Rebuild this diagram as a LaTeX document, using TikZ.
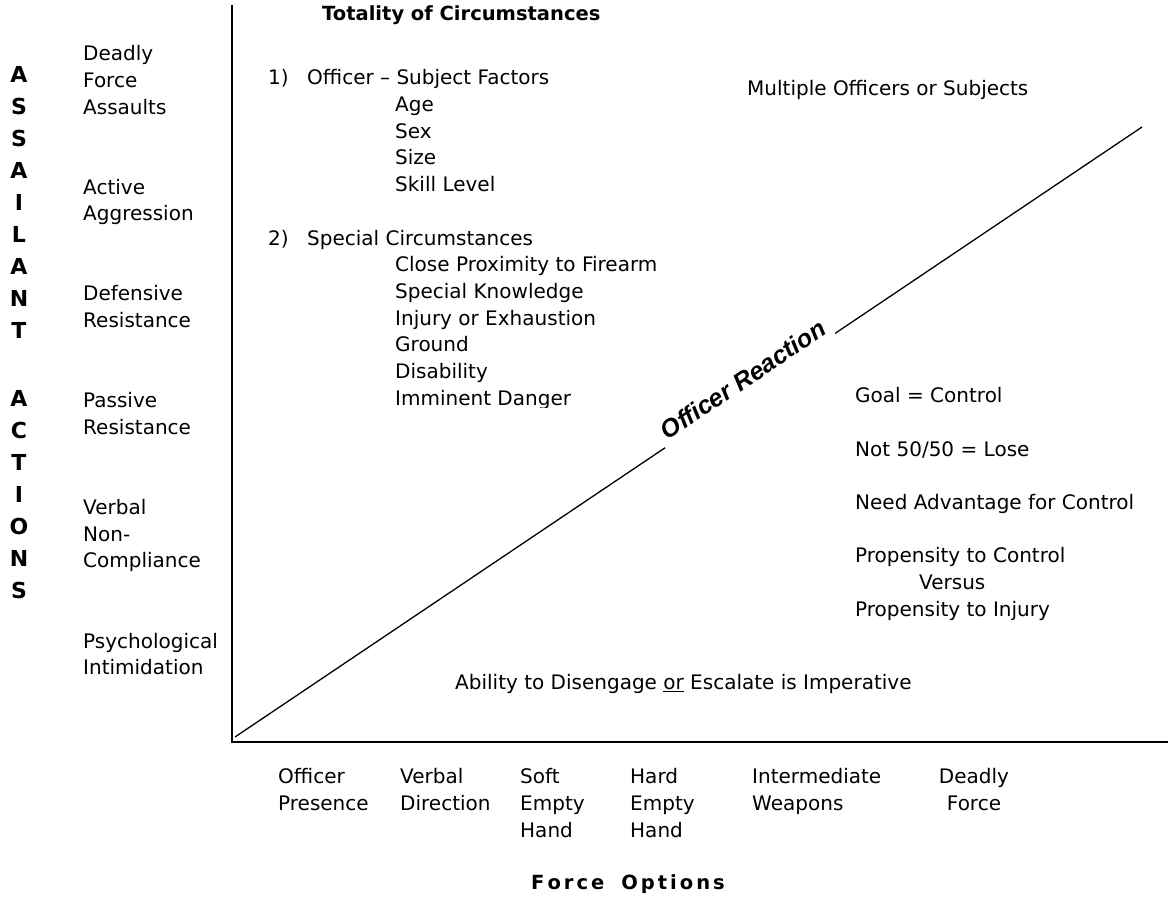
\documentclass[tikz,border=0pt]{standalone}
\usepackage{fontspec}
\setmainfont{DejaVu Sans}
\newfontfamily\reactfont{Liberation Sans}
\newcommand\lblfont{\fontsize{20}{26.7}\selectfont}
\newcommand\ttlfont{\fontsize{19.5}{26.7}\selectfont\bfseries}
\newcommand\ltrfont{\fontsize{22}{26.7}\selectfont\bfseries}
\newcommand\ls{\hspace{3pt}}

\begin{document}
\begin{tikzpicture}[x=1pt, y=-1pt,
    lbl/.style={anchor=north west, inner sep=0pt, align=left, font=\lblfont},
    ctr/.style={lbl, anchor=north, align=center},
    ltr/.style={inner sep=0pt, font=\ltrfont},
    axis/.style={line width=1.6pt},
    react/.style={sloped, fill=white, inner sep=6pt, outer sep=-2pt, anchor=south,
      font=\reactfont\fontsize{25}{30}\selectfont\bfseries\itshape}]
  \useasboundingbox (0,0) rectangle (1170,909);
  % axes
  \coordinate (origin) at (232,742);
  \coordinate (ytop) at (232,5);
  \coordinate (xend) at (1168,742);
  \draw[axis] (ytop) -- (origin) -- (xend);
  % officer reaction
  \coordinate (rstart) at (235,737);
  \coordinate (rend) at (1142,127);
  \draw[line width=1.3pt] (rstart) -- node[react, pos=.568] (reaction) {Officer Reaction} (rend);
  % assailant actions, letters
  \foreach \c [count=\i] in {A,S,S,A,I,L,A,N,T}
    \node[ltr] (as\i) at (19,{74+32*(\i-1)}) {\c};
  \foreach \c [count=\i] in {A,C,T,I,O,N,S}
    \node[ltr] (ac\i) at (19,{398+32*(\i-1)}) {\c};
  % assailant actions
  \node[lbl] (deadlyassault) at (83,41.8) {\strut Deadly\\Force\\Assaults};
  \node[lbl] (active) at (83,175.3) {\strut Active\\Aggression};
  \node[lbl] (defensive) at (83,282.1) {\strut Defensive\\Resistance};
  \node[lbl] (passive) at (83,388.9) {\strut Passive\\Resistance};
  \node[lbl] (verbal) at (83,495.7) {\strut Verbal\\Non-\\Compliance};
  \node[lbl] (psych) at (83,629.2) {\strut Psychological\\Intimidation};
  % force options
  \node[lbl] (presence) at (278,765) {\strut Officer\\Presence};
  \node[lbl] (direction) at (400,765) {\strut Verbal\\Direction};
  \node[lbl] (soft) at (520,765) {\strut Soft\\Empty\\Hand};
  \node[lbl] (hard) at (630,765) {\strut Hard\\Empty\\Hand};
  \node[lbl] (weapons) at (752,765) {\strut Intermediate\\Weapons};
  \node[ctr] (deadlyforce) at (974,765) {\strut Deadly\\Force};
  \node[anchor=base, inner sep=0pt, font=\ttlfont] (options) at (628,889)
    {F\ls o\ls r\ls c\ls e\hspace{17pt}O\ls p\ls t\ls i\ls o\ls n\ls s};
  % totality of circumstances
  \node[anchor=base west, inner sep=0pt, font=\ttlfont] (totality) at (322,21)
    {Totality of Circumstances};
  \node[lbl] (f1num) at (268,65.8) {\strut 1)};
  \node[lbl] (f1) at (307,65.8) {\strut Officer -- Subject Factors};
  \node[lbl] (f1list) at (395,92.5) {\strut Age\\Sex\\Size\\Skill Level};
  \node[lbl] (f2num) at (268,226.4) {\strut 2)};
  \node[lbl] (f2) at (307,226.4) {\strut Special Circumstances};
  \begin{scope}
    \clip (240,250) rectangle (700,407);
    \node[lbl] (f2list) at (395,253)
      {\strut Close Proximity to Firearm\\Special Knowledge\\Injury or Exhaustion\\Ground\\Disability\\Imminent Danger};
  \end{scope}
  \node[lbl] (multiple) at (747,76.8) {\strut Multiple Officers or Subjects};
  % right side
  \node[lbl] (goal) at (855,383.8) {\strut Goal = Control};
  \node[lbl] (notfifty) at (855,437.3) {\strut Not 50/50 = Lose};
  \node[lbl] (advantage) at (855,490.7) {\strut Need Advantage for Control};
  \node[lbl] (propensity) at (855,544.1)
    {\strut Propensity to Control\\\hspace*{64pt}Versus\\Propensity to Injury};
  \node[lbl] (ability) at (455,670.8)
    {\strut Ability to Disengage \underline{or} Escalate is Imperative};
\end{tikzpicture}
\end{document}
